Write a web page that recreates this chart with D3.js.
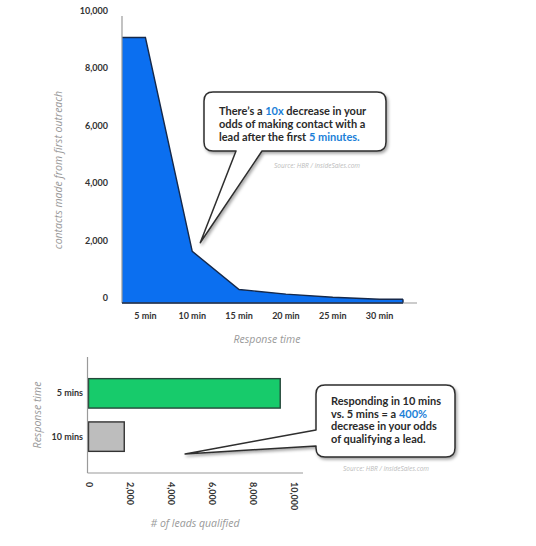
<!DOCTYPE html>
<html>
<head>
<meta charset="utf-8">
<script src="https://cdn.jsdelivr.net/npm/d3@7"></script>
<style>
  body { margin: 0; background: #fff; }
  svg { display: block; }
  .tick-label { font-family: Lato, "Open Sans", sans-serif; font-weight: 700; font-size: 9px; fill: #333; }
  .axis-title { font-family: "Open Sans", "DejaVu Sans", sans-serif; font-style: italic; font-size: 10.5px; fill: #999; }
  .bubble-text { font-family: Lato, "Open Sans", sans-serif; font-weight: 700; font-size: 11px; fill: #2a2a2a; }
  .hl { fill: #1b7fd8; }
  .source { font-family: "Open Sans", sans-serif; font-style: italic; font-size: 6.5px; fill: #bbb; }
</style>
</head>
<body>
<div id="container"></div>
<script>
// top chart: contacts made by response time
const responseTimes = ["5 min", "10 min", "15 min", "20 min", "25 min", "30 min"];
const contacts = [9250, 1800, 470, 310, 200, 130];
const contactTicks = [0, 2000, 4000, 6000, 8000, 10000];

// bottom chart: leads qualified
const leadTimes = ["5 mins", "10 mins"];
const leadsQualified = [9330, 1740];
const leadTicks = [0, 2000, 4000, 6000, 8000, 10000];

const width = 536, height = 546;
const svg = d3.select("#container").append("svg")
  .attr("width", width)
  .attr("height", height);

const defs = svg.append("defs");
defs.append("filter").attr("id", "shadow")
  .attr("x", "-10%").attr("y", "-10%").attr("width", "130%").attr("height", "140%")
  .append("feDropShadow")
  .attr("dx", 1.5).attr("dy", 2).attr("stdDeviation", 1.6)
  .attr("flood-color", "#000").attr("flood-opacity", 0.35);

const fmt = d3.format(",");

// ---------- top area chart ----------
const x = d3.scaleBand().domain(responseTimes).range([122, 403]);
const y = d3.scaleLinear().domain([0, 10000]).range([303, 16]);
const mid = (d) => x(d) + x.bandwidth() / 2;

const pts = responseTimes.map((d, i) => [mid(d), contacts[i]]);
pts.unshift([x(responseTimes[0]), contacts[0]]);
pts.push([x(responseTimes[responseTimes.length - 1]) + x.bandwidth(), contacts[contacts.length - 1]]);

const area = d3.area().x((d) => d[0]).y0(y(0)).y1((d) => y(d[1]));
svg.append("path")
  .datum(pts)
  .attr("d", area)
  .attr("fill", "#0b6ff0");
svg.append("path")
  .datum(pts)
  .attr("d", d3.line().x((d) => d[0]).y((d) => y(d[1])))
  .attr("fill", "none")
  .attr("stroke", "#16294a")
  .attr("stroke-width", 1.4);
// right edge of area
svg.append("line")
  .attr("x1", pts[pts.length - 1][0]).attr("x2", pts[pts.length - 1][0])
  .attr("y1", y(contacts[contacts.length - 1])).attr("y2", y(0))
  .attr("stroke", "#16294a").attr("stroke-width", 1.4);

// axes lines
svg.append("line").attr("x1", 122).attr("x2", 122).attr("y1", y(10000)).attr("y2", y(0))
  .attr("stroke", "#9a9a9a").attr("stroke-width", 1.2);
svg.append("line").attr("x1", 122).attr("x2", 417).attr("y1", y(0)).attr("y2", y(0))
  .attr("stroke", "#9a9a9a").attr("stroke-width", 1.2);
// dark bottom edge of area
svg.append("line").attr("x1", 122).attr("x2", pts[pts.length - 1][0]).attr("y1", y(0)).attr("y2", y(0))
  .attr("stroke", "#16294a").attr("stroke-width", 1.4);

svg.append("g").selectAll("text")
  .data(contactTicks)
  .join("text")
  .attr("class", "tick-label")
  .attr("x", 108)
  .attr("y", (d) => y(d) - 2)
  .attr("text-anchor", "end")
  .text((d) => fmt(d));

svg.append("g").selectAll("text")
  .data(responseTimes)
  .join("text")
  .attr("class", "tick-label")
  .attr("x", (d) => mid(d))
  .attr("y", 319)
  .attr("text-anchor", "middle")
  .text((d) => d);

svg.append("text")
  .attr("class", "axis-title")
  .attr("transform", "translate(62,170) rotate(-90)")
  .attr("text-anchor", "middle")
  .text("contacts made from first outreach");
svg.append("text")
  .attr("class", "axis-title")
  .attr("x", 267).attr("y", 343)
  .attr("text-anchor", "middle")
  .text("Response time");

// ---------- bottom bar chart ----------
const xb = d3.scaleLinear().domain([0, 10000]).range([88.5, 294]);
const yb = d3.scaleBand().domain(leadTimes).range([357, 473]).paddingInner(0.32).paddingOuter(0.5);

svg.append("g").selectAll("rect")
  .data(leadTimes)
  .join("rect")
  .attr("x", xb(0))
  .attr("y", (d) => yb(d))
  .attr("width", (d, i) => xb(leadsQualified[i]) - xb(0))
  .attr("height", yb.bandwidth())
  .attr("fill", (d, i) => (i === 0 ? "#17cb6b" : "#bdbdbd"))
  .attr("stroke", (d, i) => (i === 0 ? "#25483a" : "#333"))
  .attr("stroke-width", 1.4);

svg.append("line").attr("x1", xb(0) - 1).attr("x2", xb(0) - 1).attr("y1", 357).attr("y2", 473)
  .attr("stroke", "#9a9a9a").attr("stroke-width", 1.2);
svg.append("line").attr("x1", xb(0) - 1).attr("x2", 303).attr("y1", 473).attr("y2", 473)
  .attr("stroke", "#9a9a9a").attr("stroke-width", 1.2);

svg.append("g").selectAll("text")
  .data(leadTimes)
  .join("text")
  .attr("class", "tick-label")
  .attr("x", 83)
  .attr("y", (d) => yb(d) + yb.bandwidth() / 2 + 3)
  .attr("text-anchor", "end")
  .text((d) => d);

svg.append("g").selectAll("text")
  .data(leadTicks)
  .join("text")
  .attr("class", "tick-label")
  .attr("transform", (d) => `translate(${xb(d) - 3},482) rotate(90)`)
  .attr("text-anchor", "start")
  .text((d) => fmt(d));

svg.append("text")
  .attr("class", "axis-title")
  .attr("transform", "translate(41,415) rotate(-90)")
  .attr("text-anchor", "middle")
  .text("Response time");
svg.append("text")
  .attr("class", "axis-title")
  .attr("x", 195).attr("y", 527)
  .attr("text-anchor", "middle")
  .text("# of leads qualified");

// ---------- speech bubbles ----------
function bubblePath(bx, by, w, h, r, tail) {
  const p = d3.path();
  p.moveTo(bx + r, by);
  p.lineTo(bx + w - r, by);
  p.quadraticCurveTo(bx + w, by, bx + w, by + r);
  p.lineTo(bx + w, by + h - r);
  p.quadraticCurveTo(bx + w, by + h, bx + w - r, by + h);
  if (tail.side === "bottom") {
    p.lineTo(tail.b, by + h);
    p.lineTo(tail.tip[0], tail.tip[1]);
    p.lineTo(tail.a, by + h);
  }
  p.lineTo(bx + r, by + h);
  p.quadraticCurveTo(bx, by + h, bx, by + h - r);
  if (tail.side === "left") {
    p.lineTo(bx, tail.b);
    p.lineTo(tail.tip[0], tail.tip[1]);
    p.lineTo(bx, tail.a);
  }
  p.lineTo(bx, by + r);
  p.quadraticCurveTo(bx, by, bx + r, by);
  p.closePath();
  return p.toString();
}

function drawBubble(box, tail, lines, source) {
  svg.append("path")
    .attr("d", bubblePath(box.x, box.y, box.w, box.h, 9, tail))
    .attr("fill", "#fff")
    .attr("stroke", "#2e2e2e")
    .attr("stroke-width", 1.5)
    .attr("stroke-linejoin", "round")
    .attr("filter", "url(#shadow)");
  const t = svg.append("text").attr("class", "bubble-text");
  lines.forEach((parts, i) => {
    parts.forEach((part, j) => {
      const ts = t.append("tspan").text(part.t);
      if (j === 0) ts.attr("x", box.tx).attr("y", box.ty + i * box.lh);
      if (part.hl) ts.attr("class", "hl");
    });
  });
  svg.append("text")
    .attr("class", "source")
    .attr("x", source[0]).attr("y", source[1])
    .attr("text-anchor", "middle")
    .text("Source: HBR / InsideSales.com");
}

drawBubble(
  { x: 204, y: 92, w: 182, h: 59, tx: 219, ty: 115, lh: 13 },
  { side: "bottom", a: 236, b: 262, tip: [mid("10 min") + 8, y(2100)] },
  [
    [{ t: "There’s a " }, { t: "10x", hl: true }, { t: " decrease in your" }],
    [{ t: "odds of making contact with a" }],
    [{ t: "lead after the first " }, { t: "5 minutes.", hl: true }]
  ],
  [317, 168]
);

drawBubble(
  { x: 316, y: 385, w: 139, h: 72, tx: 331, ty: 405, lh: 12.7 },
  { side: "left", a: 430, b: 446, tip: [xb(4700), 454] },
  [
    [{ t: "Responding in 10 mins" }],
    [{ t: "vs. 5 mins = a " }, { t: "400%", hl: true }],
    [{ t: "decrease in your odds" }],
    [{ t: "of qualifying a lead." }]
  ],
  [386, 471]
);
</script>
</body>
</html>
